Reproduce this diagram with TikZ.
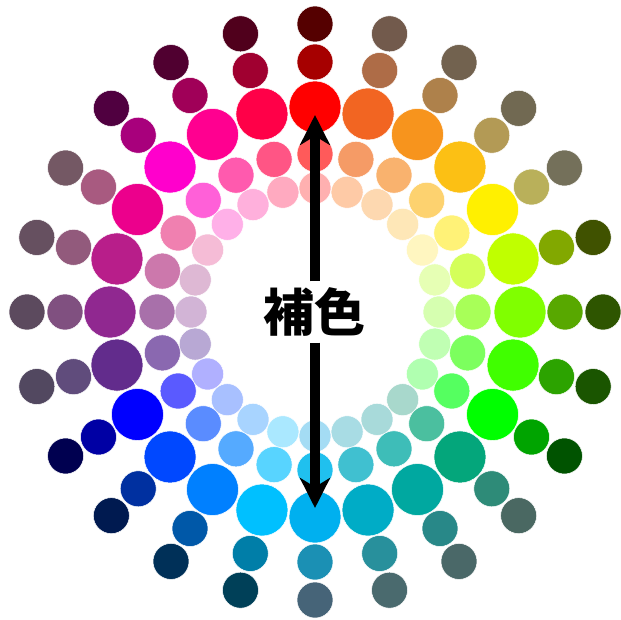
\documentclass[tikz,border=0pt]{standalone}
\usepackage{fontspec}
\newfontfamily\cjk{Noto Sans CJK JP}
\usetikzlibrary{arrows.meta}

\begin{document}
\begin{tikzpicture}[
  x=1pt, y=1pt,
  dot/.style={circle, draw=white, line width=0.5pt, inner sep=0pt},
  pale/.style={dot, minimum size=32pt},
  tint/.style={dot, minimum size=36pt},
  pure/.style={dot, minimum size=52pt},
  shade/.style={dot, minimum size=36pt},
  tone/.style={dot, minimum size=36pt},
  arrow/.style={-{Stealth[length=30pt,width=30pt,inset=9pt]}, line width=10pt}
]
  \useasboundingbox (-315,-307) rectangle (306,312);

  % 24 hues, from red clockwise: pale / tint / pure / shade / tone
  \foreach \k/\p/\l/\b/\d/\o in {
    1/FFB0B0/FF5A5A/FF0000/A60000/550000,
    2/FECAA6/F59B66/F26522/AE6C47/725A4C,
    3/FDD8B0/F9B26E/F7941D/AE814B/72624F,
    4/FEE7B7/FDD26F/FCC014/B39A55/716952,
    5/FFF6C0/FFF277/FFF000/B9B05A/74705A,
    6/E6FFB4/D4FF5A/C0FF00/82A800/405200,
    7/D6FFB0/A8FF58/80FF00/58A800/2E5500,
    8/C0FFB3/7CFF5E/40FF00/2CA300/1A5500,
    9/B0FFB0/55FF60/00FF00/00A400/005300,
    10/A8D8CC/4BBF9F/04A67B/2E8B78/4A6862,
    11/A8DADA/3EBDB8/00A8A0/288888/4A6868,
    12/A8DCE4/40C0D0/00ACC6/28909C/4A6A6E,
    13/A4DCF4/20C0EE/00B0EF/1B90B4/466478,
    14/AAE8FF/58D4FF/00C0FF/007EA8/004058,
    15/A8D4FF/55AAFF/0080FF/0058A8/003058,
    16/A8C0FF/5A8CFF/0048FF/0030A0/001A50,
    17/B0B0FF/5A5AFF/0000FF/0000A4/000050,
    18/B8A8D4/8A68B0/622C8C/604C7C/524860,
    19/D2B4D6/A870AA/902890/805080/5C4A5E,
    20/DEB8D4/CC78AC/B81E8A/925A7C/665060,
    21/F5BCD6/F080B0/EC008C/A85A80/745864,
    22/FFB0E8/FF60D8/FF00CC/A8007C/500040,
    23/FFB0DC/FF5AAE/FF0090/A00058/500030,
    24/FFAAC0/FF5585/FF0048/A00030/50001C}{
    \pgfmathsetmacro{\ang}{90-15*(\k-1)}
    \definecolor{cp}{HTML}{\p}
    \definecolor{cl}{HTML}{\l}
    \definecolor{cb}{HTML}{\b}
    \definecolor{cd}{HTML}{\d}
    \definecolor{co}{HTML}{\o}
    \node[pale, fill=cp] (p\k) at (\ang:124) {};
    \node[tint, fill=cl] (l\k) at (\ang:158) {};
    \node[pure, fill=cb] (b\k) at (\ang:205) {};
    \node[shade, fill=cd] (d\k) at (\ang:250) {};
    \node[tone, fill=co] (o\k) at (\ang:288) {};
  }

  \node[font=\cjk\bfseries\fontsize{51}{51}\selectfont, inner sep=0pt,
        minimum height=61pt] (lbl) at (0,0) {補色};

  \draw[arrow, shorten >=8pt] (lbl.north) -- (b1.center);
  \draw[arrow, shorten >=9pt] (lbl.south) -- (b13.center);

\end{tikzpicture}
\end{document}
